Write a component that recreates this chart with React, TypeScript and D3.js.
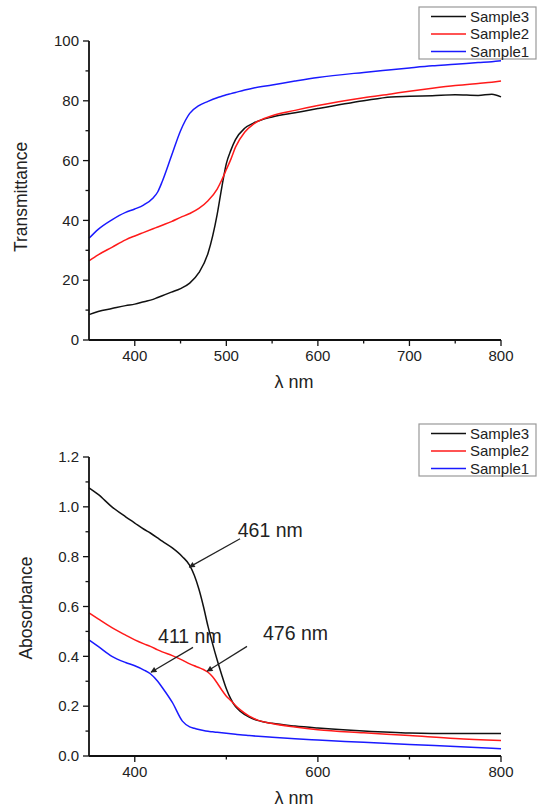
import React from "react";
import * as d3 from "d3";

const seriesNames = ["Sample3", "Sample2", "Sample1"];
const seriesColors = ["#111111", "#ff1a1a", "#1a1aff"];

// Transmittance (top panel)
const tWave = [350, 360, 375, 390, 400, 410, 420, 425, 430, 440, 450, 460, 470, 480, 490, 495, 500, 505, 510, 520, 530, 550, 575, 600, 650, 680, 700, 725, 750, 775, 790, 800];
const tSample3 = [8.5, 9.5, 10.5, 11.5, 12, 12.8, 13.6, 14.2, 14.8, 16, 17.2, 19, 22.5, 29, 42, 51, 59, 63.5, 67, 70.8, 72.6, 74.6, 76, 77.4, 80, 81.3, 81.5, 81.7, 82, 81.8, 82.2, 81.3];
const tSample2 = [26.5, 28.5, 31, 33.5, 34.8, 36, 37.2, 37.8, 38.4, 39.6, 41, 42.3, 44, 46.6, 50.5, 53.5, 57, 60.5, 64.5, 69.5, 72.3, 75, 76.8, 78.4, 81, 82.3, 83.2, 84.2, 85.1, 85.8, 86.2, 86.6];
const tSample1 = [34, 37, 40.2, 42.7, 43.8, 45.2, 47.5, 49.5, 53, 61.5, 70, 75.8, 78.4, 79.8, 81, 81.5, 82, 82.4, 82.8, 83.6, 84.3, 85.3, 86.6, 87.8, 89.5, 90.4, 91, 91.7, 92.2, 92.8, 93.1, 93.4];

// Absorbance (bottom panel)
const aWave = [350, 360, 375, 390, 400, 410, 417, 425, 430, 441, 452, 460, 465, 470, 475, 480, 485, 490, 495, 500, 505, 510, 515, 525, 535, 550, 575, 600, 650, 700, 750, 800];
const aSample3 = [1.076, 1.05, 1.0, 0.96, 0.935, 0.91, 0.895, 0.875, 0.862, 0.835, 0.8, 0.765, 0.725, 0.67, 0.6, 0.52, 0.45, 0.385, 0.325, 0.27, 0.228, 0.198, 0.18, 0.156, 0.142, 0.131, 0.12, 0.112, 0.1, 0.092, 0.09, 0.09];
const aSample2 = [0.574, 0.55, 0.515, 0.485, 0.466, 0.45, 0.44, 0.426, 0.418, 0.403, 0.385, 0.37, 0.362, 0.355, 0.347, 0.336, 0.318, 0.293, 0.265, 0.24, 0.222, 0.203, 0.186, 0.16, 0.143, 0.13, 0.116, 0.105, 0.093, 0.082, 0.07, 0.062];
const aSample1 = [0.466, 0.44, 0.4, 0.375, 0.362, 0.345, 0.33, 0.3, 0.275, 0.215, 0.14, 0.117, 0.111, 0.106, 0.102, 0.099, 0.097, 0.095, 0.093, 0.091, 0.089, 0.087, 0.085, 0.082, 0.079, 0.075, 0.069, 0.064, 0.055, 0.046, 0.038, 0.029];

const tTicks = [0, 20, 40, 60, 80, 100];
const tMinor = [10, 30, 50, 70, 90];
const tXTicks = [400, 500, 600, 700, 800];
const tXMinor = [450, 550, 650, 750];

const aTicks = [0, 0.2, 0.4, 0.6, 0.8, 1.0, 1.2];
const aMinor = [0.1, 0.3, 0.5, 0.7, 0.9, 1.1];
const aXTicks = [400, 600, 800];
const aXMinor = [500, 700];

// annotations: label, label position (data), arrow tail (data), arrow tip (data)
const annLabels = ["461 nm", "476 nm", "411 nm"];
const annLabelPos = [[512.5, 0.88], [540, 0.466], [425.4, 0.454]];
const annTail = [[515, 0.872], [522.6, 0.44], [463.6, 0.436]];
const annTip = [[459.5, 0.758], [479, 0.34], [417.7, 0.336]];

const FONT = "'Liberation Sans', Arial, sans-serif";

type PanelProps = {
  top: number;
  bottom: number;
  yDomain: [number, number];
  yTicks: number[];
  yMinor: number[];
  xTicks: number[];
  xMinor: number[];
  yFmt: (v: number) => string;
  ylabel: string;
  ylabelX: number;
  ylabelY: number;
  wave: number[];
  series: number[][];
  legendY: number;
  annotations?: boolean;
};

function Panel(p: PanelProps) {
  const x = d3.scaleLinear().domain([350, 800]).range([89, 501]);
  const y = d3.scaleLinear().domain(p.yDomain).range([p.bottom, p.top]);
  const line = d3
    .line<number>()
    .x((_, i) => x(p.wave[i]))
    .y((v) => y(v))
    .curve(d3.curveMonotoneX);
  const x0 = x(350);
  const x1 = x(800);
  return (
    <g>
      {p.series.map((s, i) => (
        <path key={i} d={line(s) || ""} fill="none" stroke={seriesColors[i]} strokeWidth={1.5} />
      ))}
      {/* axes */}
      <line x1={x0} x2={x0} y1={y(p.yDomain[1])} y2={p.bottom} stroke="#111" strokeWidth={1.8} />
      <line x1={x0} x2={x1} y1={p.bottom} y2={p.bottom} stroke="#111" strokeWidth={1.8} />
      {p.yTicks.map((t) => (
        <g key={"yt" + t}>
          <line x1={x0 - 6} x2={x0} y1={y(t)} y2={y(t)} stroke="#111" strokeWidth={1.3} />
          <text x={x0 - 10} y={y(t)} dy="0.35em" textAnchor="end" fontSize={15} fontFamily={FONT} fill="#222">
            {p.yFmt(t)}
          </text>
        </g>
      ))}
      {p.yMinor.map((t) => (
        <line key={"ym" + t} x1={x0 - 3.5} x2={x0} y1={y(t)} y2={y(t)} stroke="#111" strokeWidth={1.3} />
      ))}
      {p.xTicks.map((t) => (
        <g key={"xt" + t}>
          <line x1={x(t)} x2={x(t)} y1={p.bottom} y2={p.bottom + 6} stroke="#111" strokeWidth={1.3} />
          <text x={x(t)} y={p.bottom + 21} textAnchor="middle" fontSize={15} fontFamily={FONT} fill="#222">
            {t}
          </text>
        </g>
      ))}
      {p.xMinor.map((t) => (
        <line key={"xm" + t} x1={x(t)} x2={x(t)} y1={p.bottom} y2={p.bottom + 3.5} stroke="#111" strokeWidth={1.3} />
      ))}
      <text x={294} y={p.bottom + 48} textAnchor="middle" fontSize={18} fontFamily={FONT} fill="#222">
        λ nm
      </text>
      <text
        transform={`translate(${p.ylabelX},${p.ylabelY}) rotate(-90)`}
        textAnchor="middle"
        fontSize={17.5}
        fontFamily={FONT}
        fill="#222"
      >
        {p.ylabel}
      </text>
      {/* legend */}
      <rect x={419} y={p.legendY} width={117} height={52} fill="#fff" stroke="#999" strokeWidth={1.2} />
      {seriesNames.map((n, i) => (
        <g key={n}>
          <line
            x1={431}
            x2={466}
            y1={p.legendY + 9.5 + i * 17.5}
            y2={p.legendY + 9.5 + i * 17.5}
            stroke={seriesColors[i]}
            strokeWidth={1.5}
          />
          <text x={470} y={p.legendY + 9.5 + i * 17.5} dy="0.35em" fontSize={15} fontFamily={FONT} fill="#222">
            {n}
          </text>
        </g>
      ))}
      {p.annotations &&
        annLabels.map((l, i) => (
          <g key={l}>
            <line
              x1={x(annTail[i][0])}
              y1={y(annTail[i][1])}
              x2={x(annTip[i][0])}
              y2={y(annTip[i][1])}
              stroke="#222"
              strokeWidth={1.2}
              markerEnd="url(#arrow)"
            />
            <text x={x(annLabelPos[i][0])} y={y(annLabelPos[i][1])} fontSize={19.5} fontFamily={FONT} fill="#222">
              {l}
            </text>
          </g>
        ))}
    </g>
  );
}

export default function App() {
  return (
    <svg width={540} height={808} style={{ position: "absolute", left: 0, top: 0, background: "#fff" }}>
      <defs>
        <marker id="arrow" viewBox="0 0 10 10" refX="9" refY="5" markerWidth="7" markerHeight="5" orient="auto">
          <path d="M0,0 L10,5 L0,10 z" fill="#222" />
        </marker>
      </defs>
      <rect width={540} height={808} fill="#fff" />
      <Panel
        top={41}
        bottom={340}
        yDomain={[0, 100]}
        yTicks={tTicks}
        yMinor={tMinor}
        xTicks={tXTicks}
        xMinor={tXMinor}
        yFmt={(v) => String(v)}
        ylabel="Transmittance"
        ylabelX={27}
        ylabelY={197}
        wave={tWave}
        series={[tSample3, tSample2, tSample1]}
        legendY={7}
      />
      <Panel
        top={457}
        bottom={756}
        yDomain={[0, 1.2]}
        yTicks={aTicks}
        yMinor={aMinor}
        xTicks={aXTicks}
        xMinor={aXMinor}
        yFmt={(v) => v.toFixed(1)}
        ylabel="Abosorbance"
        ylabelX={32}
        ylabelY={608}
        wave={aWave}
        series={[aSample3, aSample2, aSample1]}
        legendY={424}
        annotations
      />
    </svg>
  );
}
